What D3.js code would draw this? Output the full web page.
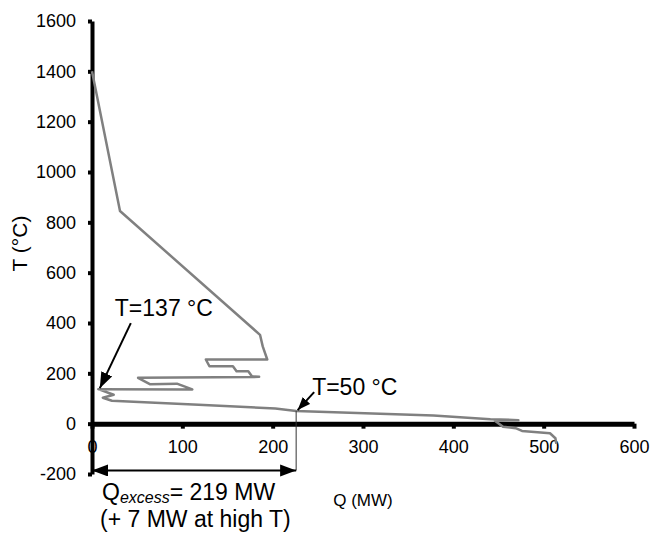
<!DOCTYPE html>
<html>
<head>
<meta charset="utf-8">
<script src="https://cdn.jsdelivr.net/npm/d3@7"></script>
<style>
  html, body { margin: 0; padding: 0; background: #fff; }
  svg { display: block; font-family: "Liberation Sans", Arial, sans-serif; }
</style>
</head>
<body>
<svg id="chart" width="652" height="533"></svg>
<script>
// ---- data ----
const curveQ = [0, 31, 186, 189, 194, 126, 130, 156, 160, 173, 177, 185, 51, 64, 94, 111, 7, 24, 12, 22, 118, 203, 226, 378, 441, 472, 446, 455, 469, 476, 507, 513, 514];
const curveT = [1400, 845, 353, 307, 255, 255, 228, 228, 208, 208, 188, 186, 182, 157, 159, 136, 137, 115, 103, 91, 75, 60, 50, 32, 18, 14, 12, -12, -18, -29, -38, -58, -80];
const xTicks = [0, 100, 200, 300, 400, 500, 600];
const yTicks = [-200, 0, 200, 400, 600, 800, 1000, 1200, 1400, 1600];
const xTitle = "Q (MW)";
const yTitle = "T (°C)";
const pinchPoint = [7, 137];
const pinchLabel = "T=137 °C";
const crossPoint = [226, 50];
const crossLabel = "T=50 °C";
const excessStart = 0;
const excessLabelMain = "Q";
const excessLabelSub = "excess";
const excessLabelRest = "= 219 MW";
const excessLabelLine2 = "(+ 7 MW at high T)";
const arrowLevelT = -186;

// ---- scales ----
const svg = d3.select("#chart");
const x = d3.scaleLinear().domain([0, 600]).range([92, 634]);
const y = d3.scaleLinear().domain([-200, 1600]).range([474, 21]);

// markers
const defs = svg.append("defs");
defs.append("marker").attr("id", "headBig")
  .attr("markerUnits", "userSpaceOnUse")
  .attr("markerWidth", 17).attr("markerHeight", 13)
  .attr("refX", 16).attr("refY", 6)
  .attr("orient", "auto-start-reverse")
  .append("path").attr("d", "M0,0 L16,6 L0,12 Z").attr("fill", "#000");
defs.append("marker").attr("id", "headSmall")
  .attr("markerUnits", "userSpaceOnUse")
  .attr("markerWidth", 14).attr("markerHeight", 11)
  .attr("refX", 13).attr("refY", 5)
  .attr("orient", "auto")
  .append("path").attr("d", "M0,0 L13,5 L0,10 Z").attr("fill", "#000");

const fmt = d => String(d);

// ---- axes ----
const yAxis = d3.axisLeft(y).tickValues(yTicks).tickFormat(fmt).tickSize(4).tickPadding(12).tickSizeOuter(0);
const gy = svg.append("g").attr("transform", `translate(${x(0)},0)`).call(yAxis);
gy.select(".domain").attr("stroke", "#000").attr("stroke-width", 4);
gy.selectAll(".tick line").attr("stroke", "#000").attr("stroke-width", 4);
gy.selectAll(".tick text").attr("font-size", 18).attr("font-family", "Liberation Sans, Arial, sans-serif").attr("fill", "#000");

const xAxis = d3.axisBottom(x).tickValues(xTicks).tickFormat(fmt).tickSize(5).tickPadding(12).tickSizeOuter(0);
const gx = svg.append("g").attr("transform", `translate(0,${y(0)})`).call(xAxis);
gx.select(".domain").attr("stroke", "#000").attr("stroke-width", 5);
gx.selectAll(".tick line").attr("stroke", "#000").attr("stroke-width", 4);
gx.selectAll(".tick text").attr("font-size", 18).attr("font-family", "Liberation Sans, Arial, sans-serif").attr("fill", "#000");

// axis titles
svg.append("text")
  .attr("x", (x(0) + x(600)) / 2).attr("y", y(-200) + 32)
  .attr("text-anchor", "middle").attr("font-size", 17).text(xTitle);
svg.append("text")
  .attr("transform", `translate(${x(0) - 65},${(y(-200) + y(1600)) / 2 - 4}) rotate(-90)`)
  .attr("text-anchor", "middle").attr("font-size", 21).text(yTitle);

// ---- curve ----
const pts = curveQ.map((q, i) => [q, curveT[i]]);
svg.append("path")
  .datum(pts)
  .attr("fill", "none")
  .attr("stroke", "#808080")
  .attr("stroke-width", 2.5)
  .attr("stroke-linejoin", "round")
  .attr("d", d3.line().x(d => x(d[0])).y(d => y(d[1])));

// ---- annotations ----
// pinch arrow
const px = x(pinchPoint[0]) + 1.5, py = y(pinchPoint[1]) - 1;
svg.append("line")
  .attr("x1", px + 31).attr("y1", py - 65)
  .attr("x2", px).attr("y2", py)
  .attr("stroke", "#000").attr("stroke-width", 2)
  .attr("marker-end", "url(#headBig)");
svg.append("text")
  .attr("x", px + 15).attr("y", py - 72)
  .attr("font-size", 23).text(pinchLabel);

// T=50 arrow & vertical line
const cx = x(crossPoint[0]), cy = y(crossPoint[1]);
svg.append("line")
  .attr("x1", cx).attr("y1", cy)
  .attr("x2", cx).attr("y2", y(arrowLevelT))
  .attr("stroke", "#333").attr("stroke-width", 1);
svg.append("line")
  .attr("x1", cx + 18).attr("y1", cy - 19)
  .attr("x2", cx + 1.5).attr("y2", cy - 1)
  .attr("stroke", "#000").attr("stroke-width", 2)
  .attr("marker-end", "url(#headSmall)");
svg.append("text")
  .attr("x", cx + 16).attr("y", cy - 16)
  .attr("font-size", 23).text(crossLabel);

// double arrow for Q excess
svg.append("line")
  .attr("x1", x(excessStart)).attr("y1", y(arrowLevelT))
  .attr("x2", cx).attr("y2", y(arrowLevelT))
  .attr("stroke", "#000").attr("stroke-width", 2)
  .attr("marker-start", "url(#headBig)")
  .attr("marker-end", "url(#headBig)");

const t1 = svg.append("text")
  .attr("x", x(excessStart) + 10).attr("y", y(arrowLevelT) + 30)
  .attr("font-size", 23);
t1.append("tspan").text(excessLabelMain);
t1.append("tspan").attr("font-size", 16).attr("font-style", "italic").attr("dy", 3).text(excessLabelSub);
t1.append("tspan").attr("dy", -3).text(excessLabelRest);
svg.append("text")
  .attr("x", x(excessStart) + 8).attr("y", y(arrowLevelT) + 57)
  .attr("font-size", 23).text(excessLabelLine2);
</script>
</body>
</html>
